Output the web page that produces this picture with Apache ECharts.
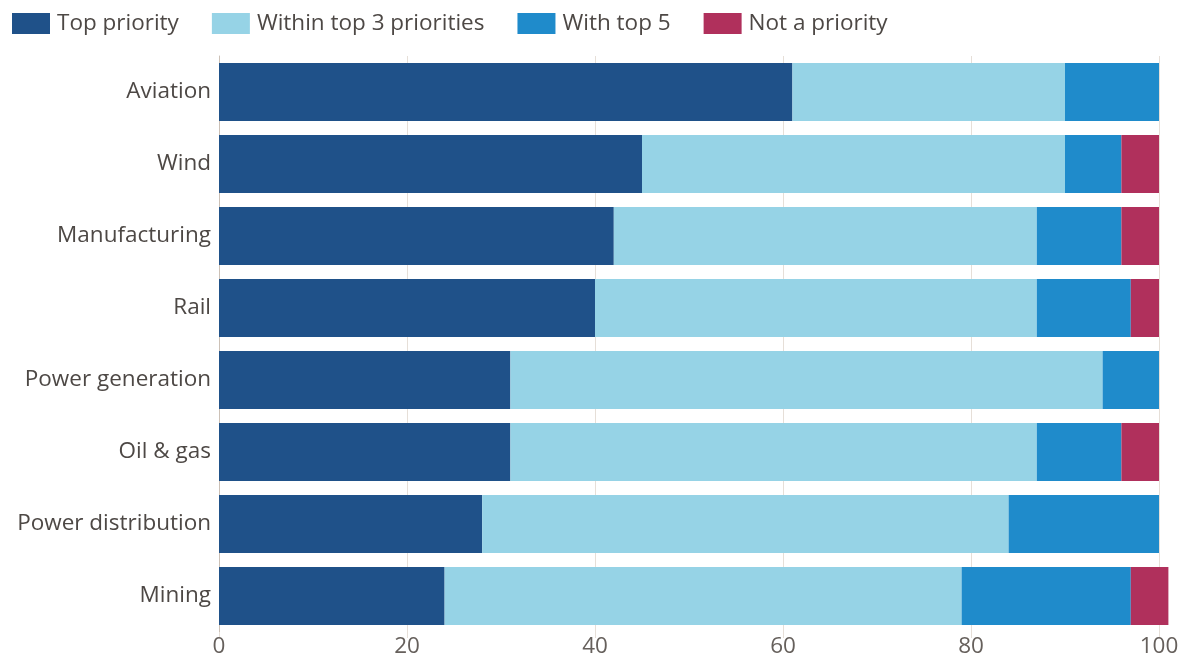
<!DOCTYPE html>
<html>
<head>
<meta charset="utf-8">
<script src="https://cdn.jsdelivr.net/npm/echarts@6/dist/echarts.min.js"></script>
<style>
  html, body { margin: 0; padding: 0; background: #fff; }
  #chart { width: 1183px; height: 658px; }
</style>
</head>
<body>
<div id="chart"></div>
<script>
// Sectors, top to bottom
const categories = ['Aviation', 'Wind', 'Manufacturing', 'Rail', 'Power generation', 'Oil & gas', 'Power distribution', 'Mining'];
// Share of respondents (%)
const topPriority = [61, 45, 42, 40, 31, 31, 28, 24];
const withinTop3 = [29, 45, 45, 47, 63, 56, 56, 55];
const withTop5 = [10, 6, 9, 10, 6, 9, 16, 18];
const notPriority = [0, 4, 4, 3, 0, 4, 0, 4];
const xTicks = [0, 20, 40, 60, 80, 100];

const seriesDefs = [
  { name: 'Top priority', data: topPriority, color: '#1f5189' },
  { name: 'Within top 3 priorities', data: withinTop3, color: '#96d3e6' },
  { name: 'With top 5', data: withTop5, color: '#1f8bcb' },
  { name: 'Not a priority', data: notPriority, color: '#b0305c' }
];

const chart = echarts.init(document.getElementById('chart'), null, { renderer: 'canvas' });
const font = '"Open Sans", sans-serif';
chart.setOption({
  animation: false,
  textStyle: { fontFamily: font },
  legend: {
    left: 7,
    top: 7,
    itemWidth: 38,
    itemHeight: 21,
    itemGap: 33,
    icon: 'rect',
    textStyle: { fontSize: 22.5, color: '#4d4845', fontFamily: font, padding: [0, 0, 0, 2] },
    data: seriesDefs.map(s => s.name)
  },
  grid: { left: 219, right: 24, top: 56, bottom: 26 },
  xAxis: {
    type: 'value',
    min: xTicks[0],
    max: xTicks[xTicks.length - 1],
    interval: 20,
    axisLine: { show: false },
    axisTick: { show: true, length: 6, lineStyle: { color: '#e6dfd8' } },
    splitLine: { show: true, lineStyle: { color: '#e6dfd8', width: 1 } },
    axisLabel: { fontSize: 22.5, color: '#66605c', margin: 3, fontFamily: font }
  },
  yAxis: {
    type: 'category',
    inverse: true,
    data: categories,
    axisLine: { show: true, lineStyle: { color: '#ccc1b7', width: 1 } },
    axisTick: { show: false },
    axisLabel: { fontSize: 22.5, color: '#4d4845', margin: 8, fontFamily: font, padding: [4, 0, 0, 0] }
  },
  series: seriesDefs.map(s => ({
    name: s.name,
    type: 'bar',
    stack: 'total',
    barWidth: 58,
    clip: false,
    data: s.data,
    itemStyle: { color: s.color },
    emphasis: { disabled: true }
  }))
});
</script>
</body>
</html>
